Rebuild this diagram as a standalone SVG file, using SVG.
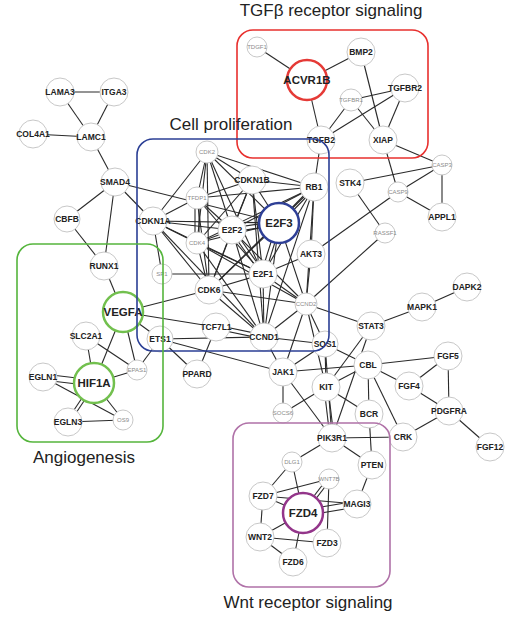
<svg xmlns="http://www.w3.org/2000/svg" width="510" height="619" viewBox="0 0 510 619">
<style>
.e line{stroke:#2a2a2a;stroke-width:1.1}
.n circle{fill:#fff;stroke:#c8c8c8;stroke-width:1}
.n text{font-family:"Liberation Sans",Arial,sans-serif;font-weight:bold;font-size:8.5px;fill:#222;text-anchor:middle;dominant-baseline:central}
.s text{font-weight:normal;font-size:6px;fill:#8a8a8a}
.b text{font-size:11.5px}
.box{fill:none;stroke-width:1.6}
.title{font-family:"Liberation Sans",Arial,sans-serif;font-size:17px;fill:#222;text-anchor:middle}
</style>
<rect width="510" height="619" fill="#fff"/>
<g id="connectors" class="e">
<line x1="60" y1="92" x2="114" y2="92"/>
<line x1="60" y1="92" x2="91" y2="137"/>
<line x1="114" y1="92" x2="91" y2="137"/>
<line x1="33" y1="134" x2="91" y2="137"/>
<line x1="91" y1="137" x2="115" y2="182"/>
<line x1="115" y1="182" x2="67" y2="219"/>
<line x1="115" y1="182" x2="153" y2="221"/>
<line x1="115" y1="182" x2="104" y2="266"/>
<line x1="115" y1="182" x2="279" y2="223"/>
<line x1="67" y1="219" x2="104" y2="266"/>
<line x1="104" y1="266" x2="123" y2="312"/>
<line x1="123" y1="312" x2="94" y2="383"/>
<line x1="123" y1="312" x2="137" y2="370"/>
<line x1="123" y1="312" x2="160" y2="339"/>
<line x1="123" y1="312" x2="209" y2="290"/>
<line x1="123" y1="312" x2="216" y2="327"/>
<line x1="86" y1="336" x2="94" y2="383"/>
<line x1="86" y1="336" x2="137" y2="370"/>
<line x1="43" y1="374" x2="94" y2="380"/>
<line x1="43" y1="380" x2="94" y2="386"/>
<line x1="94" y1="383" x2="137" y2="370"/>
<line x1="92" y1="383" x2="66" y2="422"/>
<line x1="96" y1="383" x2="70" y2="422"/>
<line x1="94" y1="383" x2="123" y2="420"/>
<line x1="43" y1="377" x2="123" y2="420"/>
<line x1="68" y1="422" x2="123" y2="420"/>
<line x1="137" y1="370" x2="160" y2="339"/>
<line x1="160" y1="339" x2="197" y2="374"/>
<line x1="160" y1="339" x2="283" y2="372"/>
<line x1="160" y1="339" x2="264" y2="337"/>
<line x1="216" y1="327" x2="197" y2="374"/>
<line x1="216" y1="325" x2="264" y2="335"/>
<line x1="216" y1="329" x2="264" y2="339"/>
<line x1="162" y1="274" x2="263" y2="274"/>
<line x1="162" y1="274" x2="153" y2="221"/>
<line x1="153" y1="221" x2="207" y2="152"/>
<line x1="153" y1="221" x2="197" y2="198"/>
<line x1="153" y1="221" x2="232" y2="230"/>
<line x1="153" y1="221" x2="279" y2="223"/>
<line x1="153" y1="221" x2="197" y2="243"/>
<line x1="153" y1="221" x2="209" y2="290"/>
<line x1="153" y1="221" x2="264" y2="337"/>
<line x1="153" y1="221" x2="263" y2="274"/>
<line x1="207" y1="152" x2="252" y2="180"/>
<line x1="207" y1="152" x2="314" y2="187"/>
<line x1="207" y1="152" x2="197" y2="198"/>
<line x1="207" y1="152" x2="232" y2="230"/>
<line x1="207" y1="152" x2="197" y2="243"/>
<line x1="207" y1="152" x2="263" y2="274"/>
<line x1="207" y1="152" x2="209" y2="290"/>
<line x1="207" y1="152" x2="279" y2="223"/>
<line x1="252" y1="180" x2="314" y2="187"/>
<line x1="252" y1="180" x2="197" y2="198"/>
<line x1="252" y1="180" x2="232" y2="230"/>
<line x1="252" y1="180" x2="197" y2="243"/>
<line x1="252" y1="180" x2="209" y2="290"/>
<line x1="252" y1="180" x2="263" y2="274"/>
<line x1="252" y1="180" x2="279" y2="223"/>
<line x1="252" y1="180" x2="264" y2="337"/>
<line x1="314" y1="187" x2="197" y2="198"/>
<line x1="314" y1="187" x2="232" y2="230"/>
<line x1="314" y1="185" x2="279" y2="221"/>
<line x1="314" y1="189" x2="279" y2="225"/>
<line x1="314" y1="187" x2="263" y2="274"/>
<line x1="314" y1="187" x2="311" y2="254"/>
<line x1="314" y1="187" x2="264" y2="337"/>
<line x1="314" y1="187" x2="306" y2="304"/>
<line x1="314" y1="187" x2="197" y2="243"/>
<line x1="314" y1="187" x2="209" y2="290"/>
<line x1="314" y1="187" x2="321" y2="140"/>
<line x1="197" y1="198" x2="232" y2="230"/>
<line x1="197" y1="198" x2="263" y2="274"/>
<line x1="195" y1="198" x2="195" y2="243"/>
<line x1="199" y1="198" x2="199" y2="243"/>
<line x1="197" y1="198" x2="209" y2="290"/>
<line x1="232" y1="228" x2="279" y2="221"/>
<line x1="232" y1="232" x2="279" y2="225"/>
<line x1="232" y1="230" x2="197" y2="243"/>
<line x1="230" y1="230" x2="261" y2="274"/>
<line x1="234" y1="230" x2="265" y2="274"/>
<line x1="232" y1="230" x2="209" y2="290"/>
<line x1="232" y1="230" x2="264" y2="337"/>
<line x1="232" y1="230" x2="306" y2="304"/>
<line x1="277" y1="223" x2="261" y2="274"/>
<line x1="281" y1="223" x2="265" y2="274"/>
<line x1="279" y1="223" x2="209" y2="290"/>
<line x1="279" y1="223" x2="264" y2="337"/>
<line x1="279" y1="223" x2="306" y2="304"/>
<line x1="279" y1="223" x2="197" y2="243"/>
<line x1="197" y1="243" x2="263" y2="274"/>
<line x1="197" y1="243" x2="209" y2="290"/>
<line x1="197" y1="243" x2="264" y2="337"/>
<line x1="197" y1="243" x2="306" y2="304"/>
<line x1="263" y1="274" x2="311" y2="254"/>
<line x1="263" y1="274" x2="209" y2="290"/>
<line x1="263" y1="274" x2="264" y2="337"/>
<line x1="263" y1="274" x2="306" y2="304"/>
<line x1="209" y1="290" x2="264" y2="337"/>
<line x1="209" y1="290" x2="306" y2="304"/>
<line x1="306" y1="304" x2="264" y2="337"/>
<line x1="306" y1="304" x2="325" y2="344"/>
<line x1="306" y1="304" x2="371" y2="326"/>
<line x1="306" y1="304" x2="283" y2="372"/>
<line x1="306" y1="304" x2="326" y2="387"/>
<line x1="306" y1="304" x2="385" y2="233"/>
<line x1="306" y1="304" x2="311" y2="254"/>
<line x1="311" y1="254" x2="398" y2="192"/>
<line x1="350" y1="183" x2="385" y2="233"/>
<line x1="350" y1="183" x2="442" y2="165"/>
<line x1="398" y1="192" x2="442" y2="165"/>
<line x1="398" y1="192" x2="383" y2="140"/>
<line x1="398" y1="192" x2="442" y2="217"/>
<line x1="442" y1="165" x2="442" y2="217"/>
<line x1="442" y1="165" x2="383" y2="140"/>
<line x1="371" y1="326" x2="422" y2="307"/>
<line x1="422" y1="307" x2="467" y2="287"/>
<line x1="371" y1="326" x2="326" y2="387"/>
<line x1="371" y1="326" x2="332" y2="438"/>
<line x1="264" y1="337" x2="283" y2="372"/>
<line x1="264" y1="337" x2="325" y2="344"/>
<line x1="325" y1="344" x2="283" y2="372"/>
<line x1="325" y1="344" x2="368" y2="365"/>
<line x1="325" y1="344" x2="326" y2="387"/>
<line x1="325" y1="344" x2="332" y2="438"/>
<line x1="283" y1="372" x2="368" y2="365"/>
<line x1="283" y1="372" x2="283" y2="413"/>
<line x1="283" y1="372" x2="332" y2="438"/>
<line x1="326" y1="387" x2="368" y2="365"/>
<line x1="326" y1="387" x2="283" y2="413"/>
<line x1="326" y1="387" x2="369" y2="414"/>
<line x1="324" y1="387" x2="330" y2="438"/>
<line x1="328" y1="387" x2="334" y2="438"/>
<line x1="368" y1="365" x2="448" y2="356"/>
<line x1="368" y1="365" x2="409" y2="386"/>
<line x1="368" y1="365" x2="369" y2="414"/>
<line x1="368" y1="365" x2="403" y2="437"/>
<line x1="448" y1="356" x2="409" y2="386"/>
<line x1="448" y1="356" x2="449" y2="411"/>
<line x1="409" y1="386" x2="449" y2="411"/>
<line x1="449" y1="411" x2="403" y2="437"/>
<line x1="449" y1="411" x2="490" y2="447"/>
<line x1="369" y1="414" x2="372" y2="465"/>
<line x1="332" y1="438" x2="403" y2="437"/>
<line x1="332" y1="438" x2="372" y2="465"/>
<line x1="332" y1="438" x2="292" y2="462"/>
<line x1="292" y1="462" x2="263" y2="496"/>
<line x1="292" y1="462" x2="303" y2="513"/>
<line x1="329" y1="479" x2="263" y2="496"/>
<line x1="327" y1="479" x2="301" y2="513"/>
<line x1="331" y1="479" x2="305" y2="513"/>
<line x1="329" y1="479" x2="327" y2="543"/>
<line x1="372" y1="465" x2="357" y2="504"/>
<line x1="357" y1="501" x2="303" y2="510"/>
<line x1="357" y1="507" x2="303" y2="516"/>
<line x1="357" y1="504" x2="263" y2="496"/>
<line x1="263" y1="496" x2="260" y2="537"/>
<line x1="263" y1="496" x2="303" y2="513"/>
<line x1="260" y1="537" x2="303" y2="513"/>
<line x1="260" y1="537" x2="327" y2="543"/>
<line x1="260" y1="537" x2="293" y2="562"/>
<line x1="303" y1="513" x2="293" y2="562"/>
<line x1="257" y1="47" x2="307" y2="80"/>
<line x1="307" y1="80" x2="361" y2="52"/>
<line x1="307" y1="80" x2="321" y2="140"/>
<line x1="361" y1="52" x2="383" y2="140"/>
<line x1="405" y1="88" x2="351" y2="100"/>
<line x1="405" y1="88" x2="321" y2="140"/>
<line x1="405" y1="88" x2="383" y2="140"/>
<line x1="351" y1="100" x2="321" y2="140"/>
<line x1="351" y1="100" x2="383" y2="140"/>
</g>
<g id="n-LAMA3" class="n"><circle cx="60" cy="92" r="14"/><text x="60" y="92">LAMA3</text></g>
<g id="n-ITGA3" class="n"><circle cx="114" cy="92" r="14"/><text x="114" y="92">ITGA3</text></g>
<g id="n-COL4A1" class="n"><circle cx="33" cy="134" r="14"/><text x="33" y="134">COL4A1</text></g>
<g id="n-LAMC1" class="n"><circle cx="91" cy="137" r="14"/><text x="91" y="137">LAMC1</text></g>
<g id="n-SMAD4" class="n"><circle cx="115" cy="182" r="14"/><text x="115" y="182">SMAD4</text></g>
<g id="n-CBFB" class="n"><circle cx="67" cy="219" r="13"/><text x="67" y="219">CBFB</text></g>
<g id="n-CDKN1A" class="n"><circle cx="153" cy="221" r="14"/><text x="153" y="221">CDKN1A</text></g>
<g id="n-CDK2" class="n s"><circle cx="207" cy="152" r="11"/><text x="207" y="152">CDK2</text></g>
<g id="n-CDKN1B" class="n"><circle cx="252" cy="180" r="14"/><text x="252" y="180">CDKN1B</text></g>
<g id="n-RB1" class="n"><circle cx="314" cy="187" r="14"/><text x="314" y="187">RB1</text></g>
<g id="n-TFDP1" class="n s"><circle cx="197" cy="198" r="11"/><text x="197" y="198">TFDP1</text></g>
<g id="n-E2F2" class="n"><circle cx="232" cy="230" r="14"/><text x="232" y="230">E2F2</text></g>
<g id="n-CDK4" class="n s"><circle cx="197" cy="243" r="11"/><text x="197" y="243">CDK4</text></g>
<g id="n-AKT3" class="n"><circle cx="311" cy="254" r="14"/><text x="311" y="254">AKT3</text></g>
<g id="n-SP1" class="n s"><circle cx="162" cy="274" r="10"/><text x="162" y="274">SP1</text></g>
<g id="n-E2F1" class="n"><circle cx="263" cy="274" r="14"/><text x="263" y="274">E2F1</text></g>
<g id="n-CDK6" class="n"><circle cx="209" cy="290" r="14"/><text x="209" y="290">CDK6</text></g>
<g id="n-CCND2" class="n s"><circle cx="306" cy="304" r="11"/><text x="306" y="304">CCND2</text></g>
<g id="n-TCF7L1" class="n"><circle cx="216" cy="327" r="14"/><text x="216" y="327">TCF7L1</text></g>
<g id="n-CCND1" class="n"><circle cx="264" cy="337" r="14"/><text x="264" y="337">CCND1</text></g>
<g id="n-ETS1" class="n"><circle cx="160" cy="339" r="13"/><text x="160" y="339">ETS1</text></g>
<g id="n-SOS1" class="n"><circle cx="325" cy="344" r="13"/><text x="325" y="344">SOS1</text></g>
<g id="n-RUNX1" class="n"><circle cx="104" cy="266" r="14"/><text x="104" y="266">RUNX1</text></g>
<g id="n-SLC2A1" class="n"><circle cx="86" cy="336" r="14"/><text x="86" y="336">SLC2A1</text></g>
<g id="n-EPAS1" class="n s"><circle cx="137" cy="370" r="10"/><text x="137" y="370">EPAS1</text></g>
<g id="n-EGLN1" class="n"><circle cx="43" cy="377" r="14"/><text x="43" y="377">EGLN1</text></g>
<g id="n-PPARD" class="n"><circle cx="197" cy="374" r="14"/><text x="197" y="374">PPARD</text></g>
<g id="n-EGLN3" class="n"><circle cx="68" cy="422" r="14"/><text x="68" y="422">EGLN3</text></g>
<g id="n-OS9" class="n s"><circle cx="123" cy="420" r="10"/><text x="123" y="420">OS9</text></g>
<g id="n-TDGF1" class="n s"><circle cx="257" cy="47" r="10"/><text x="257" y="47">TDGF1</text></g>
<g id="n-BMP2" class="n"><circle cx="361" cy="52" r="14"/><text x="361" y="52">BMP2</text></g>
<g id="n-TGFBR2" class="n"><circle cx="405" cy="88" r="14"/><text x="405" y="88">TGFBR2</text></g>
<g id="n-TGFBR1" class="n s"><circle cx="351" cy="100" r="11"/><text x="351" y="100">TGFBR1</text></g>
<g id="n-TGFB2" class="n"><circle cx="321" cy="140" r="14"/><text x="321" y="140">TGFB2</text></g>
<g id="n-XIAP" class="n"><circle cx="383" cy="140" r="14"/><text x="383" y="140">XIAP</text></g>
<g id="n-CASP3" class="n s"><circle cx="442" cy="165" r="10"/><text x="442" y="165">CASP3</text></g>
<g id="n-STK4" class="n"><circle cx="350" cy="183" r="14"/><text x="350" y="183">STK4</text></g>
<g id="n-CASP9" class="n s"><circle cx="398" cy="192" r="10"/><text x="398" y="192">CASP9</text></g>
<g id="n-APPL1" class="n"><circle cx="442" cy="217" r="14"/><text x="442" y="217">APPL1</text></g>
<g id="n-RASSF1" class="n s"><circle cx="385" cy="233" r="10"/><text x="385" y="233">RASSF1</text></g>
<g id="n-DAPK2" class="n"><circle cx="467" cy="287" r="14"/><text x="467" y="287">DAPK2</text></g>
<g id="n-MAPK1" class="n"><circle cx="422" cy="307" r="14"/><text x="422" y="307">MAPK1</text></g>
<g id="n-STAT3" class="n"><circle cx="371" cy="326" r="14"/><text x="371" y="326">STAT3</text></g>
<g id="n-CBL" class="n"><circle cx="368" cy="365" r="14"/><text x="368" y="365">CBL</text></g>
<g id="n-FGF5" class="n"><circle cx="448" cy="356" r="14"/><text x="448" y="356">FGF5</text></g>
<g id="n-JAK1" class="n"><circle cx="283" cy="372" r="14"/><text x="283" y="372">JAK1</text></g>
<g id="n-KIT" class="n"><circle cx="326" cy="387" r="14"/><text x="326" y="387">KIT</text></g>
<g id="n-FGF4" class="n"><circle cx="409" cy="386" r="14"/><text x="409" y="386">FGF4</text></g>
<g id="n-SOCS6" class="n s"><circle cx="283" cy="413" r="10"/><text x="283" y="413">SOCS6</text></g>
<g id="n-BCR" class="n"><circle cx="369" cy="414" r="14"/><text x="369" y="414">BCR</text></g>
<g id="n-PDGFRA" class="n"><circle cx="449" cy="411" r="14"/><text x="449" y="411">PDGFRA</text></g>
<g id="n-PIK3R1" class="n"><circle cx="332" cy="438" r="14"/><text x="332" y="438">PIK3R1</text></g>
<g id="n-CRK" class="n"><circle cx="403" cy="437" r="14"/><text x="403" y="437">CRK</text></g>
<g id="n-FGF12" class="n"><circle cx="490" cy="447" r="14"/><text x="490" y="447">FGF12</text></g>
<g id="n-PTEN" class="n"><circle cx="372" cy="465" r="14"/><text x="372" y="465">PTEN</text></g>
<g id="n-DLG1" class="n s"><circle cx="292" cy="462" r="10"/><text x="292" y="462">DLG1</text></g>
<g id="n-WNT7B" class="n s"><circle cx="329" cy="479" r="10"/><text x="329" y="479">WNT7B</text></g>
<g id="n-FZD7" class="n"><circle cx="263" cy="496" r="14"/><text x="263" y="496">FZD7</text></g>
<g id="n-MAGI3" class="n"><circle cx="357" cy="504" r="14"/><text x="357" y="504">MAGI3</text></g>
<g id="n-WNT2" class="n"><circle cx="260" cy="537" r="14"/><text x="260" y="537">WNT2</text></g>
<g id="n-FZD3" class="n"><circle cx="327" cy="543" r="14"/><text x="327" y="543">FZD3</text></g>
<g id="n-FZD6" class="n"><circle cx="293" cy="562" r="14"/><text x="293" y="562">FZD6</text></g>
<g id="n-ACVR1B" class="n b"><circle cx="307" cy="80" r="20" style="stroke:#e53a36;stroke-width:2.5"/><text x="307" y="80">ACVR1B</text></g>
<g id="n-E2F3" class="n b"><circle cx="279" cy="223" r="20" style="stroke:#2e3f96;stroke-width:2.5"/><text x="279" y="223">E2F3</text></g>
<g id="n-VEGFA" class="n b"><circle cx="123" cy="312" r="20" style="stroke:#72c04e;stroke-width:2.5"/><text x="123" y="312">VEGFA</text></g>
<g id="n-HIF1A" class="n b"><circle cx="94" cy="383" r="20" style="stroke:#72c04e;stroke-width:2.5"/><text x="94" y="383">HIF1A</text></g>
<g id="n-FZD4" class="n b"><circle cx="303" cy="513" r="20" style="stroke:#93358a;stroke-width:2.5"/><text x="303" y="513">FZD4</text></g>
<g id="groups">
<rect class="box" x="237" y="30" width="191" height="128" rx="16" stroke="#e8302e"/>
<rect class="box" x="137" y="139" width="192" height="212" rx="16" stroke="#2b3f95"/>
<rect class="box" x="17" y="244" width="146" height="198" rx="16" stroke="#55b53c"/>
<rect class="box" x="233" y="423" width="157" height="164" rx="16" stroke="#b072a8"/>
<text class="title" x="331" y="16">TGFβ receptor signaling</text>
<text class="title" x="231" y="130">Cell proliferation</text>
<text class="title" x="84" y="463">Angiogenesis</text>
<text class="title" x="308" y="608">Wnt receptor signaling</text>
</g>
</svg>
